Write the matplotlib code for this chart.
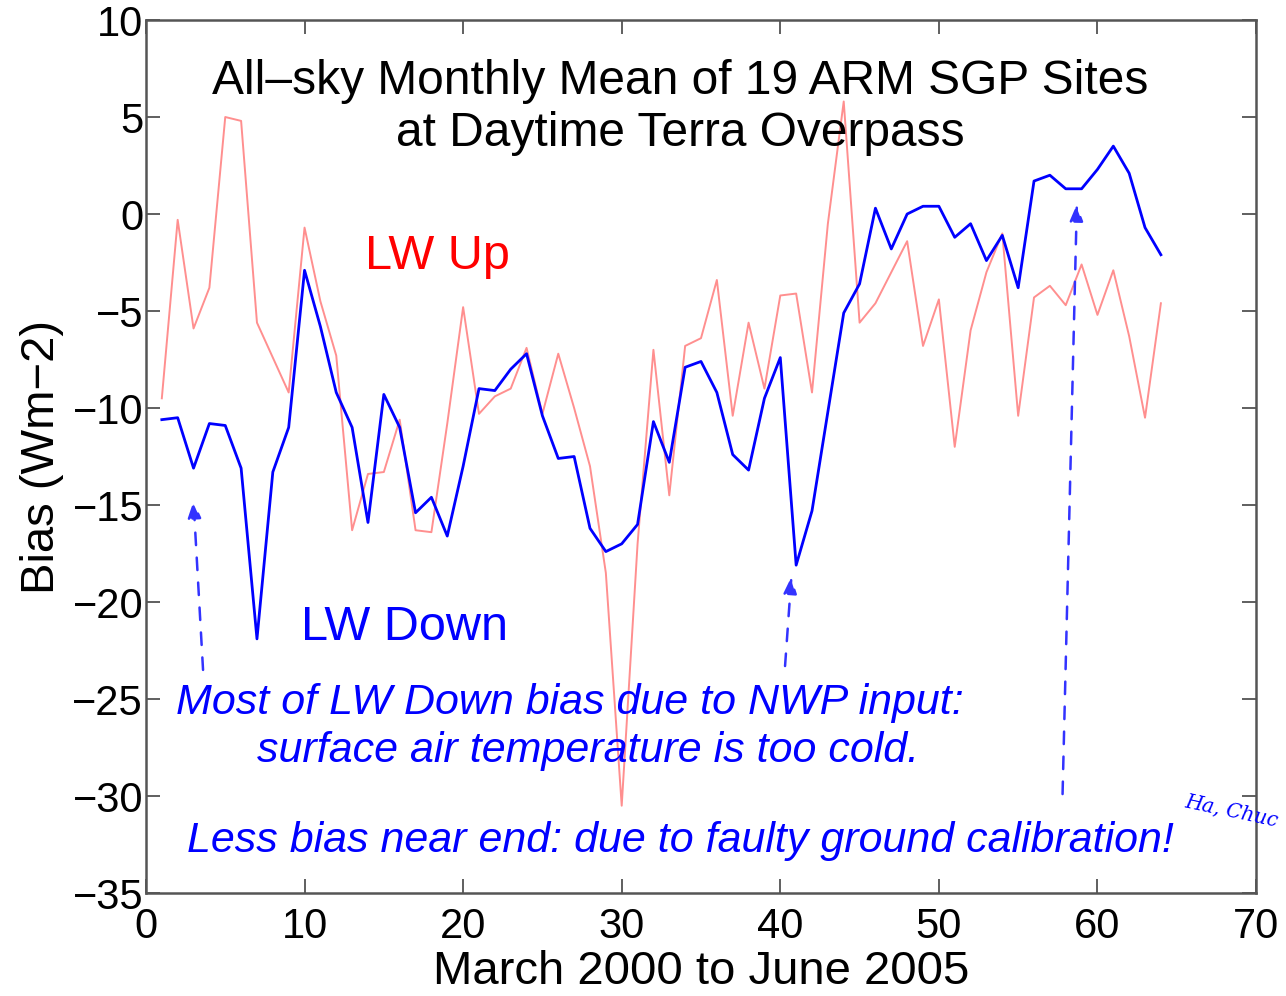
import numpy as np
import matplotlib
matplotlib.use("Agg")
import matplotlib.pyplot as plt

plt.rcParams['font.family'] = ['Liberation Sans', 'DejaVu Sans']

# month index, March 2000 .. June 2005
months = np.arange(1, 65)

lw_up = [-9.5, -0.3, -5.9, -3.8, 5.0, 4.8, -5.6, -7.4, -9.2, -0.7,
         -4.5, -7.3, -16.3, -13.4, -13.3, -10.6, -16.3, -16.4, -10.8, -4.8,
         -10.3, -9.4, -9.0, -6.9, -10.3, -7.2, -10.0, -13.0, -18.5, -30.5,
         -17.0, -7.0, -14.5, -6.8, -6.4, -3.4, -10.4, -5.6, -9.0, -4.2,
         -4.1, -9.2, -0.5, 5.8, -5.6, -4.6, -3.0, -1.4, -6.8, -4.4,
         -12.0, -6.0, -3.0, -1.0, -10.4, -4.3, -3.7, -4.7, -2.6, -5.2,
         -2.9, -6.3, -10.5, -4.6]

lw_down = [-10.6, -10.5, -13.1, -10.8, -10.9, -13.1, -21.9, -13.3, -11.0, -2.9,
           -5.8, -9.2, -11.0, -15.9, -9.3, -11.0, -15.4, -14.6, -16.6, -13.0,
           -9.0, -9.1, -8.0, -7.2, -10.4, -12.6, -12.5, -16.2, -17.4, -17.0,
           -16.0, -10.7, -12.8, -7.9, -7.6, -9.2, -12.4, -13.2, -9.5, -7.4,
           -18.1, -15.3, -10.2, -5.1, -3.6, 0.3, -1.8, 0.0, 0.4, 0.4,
           -1.2, -0.5, -2.4, -1.1, -3.8, 1.7, 2.0, 1.3, 1.3, 2.3,
           3.5, 2.1, -0.7, -2.1]

# arrows: (tail, head) in data units
arrows = [((3.6, -23.5), (3.0, -14.8)),
          ((40.3, -23.3), (40.7, -18.7)),
          ((57.8, -29.9), (58.7, 0.5))]

fig = plt.figure(figsize=(12.86, 9.96), dpi=100)
ax = fig.add_axes([0.1135, 0.1034, 0.8632, 0.8765])

ax.plot(months, lw_up, color='#ff8f8f', lw=1.4)
ax.plot(months, lw_down, color='#0000ff', lw=2.0)

for tail, head in arrows:
    ax.annotate('', xy=head, xytext=tail,
                arrowprops=dict(arrowstyle='-|>,head_length=1.0,head_width=0.4',
                                color='#3333ff', lw=1.8, ls=(0, (5, 5)),
                                shrinkA=0, shrinkB=0))

ax.set_xlim(0, 70)
ax.set_ylim(-35, 10)
ax.set_xticks(range(0, 71, 10))
ax.set_yticks(range(-35, 11, 5))
ax.tick_params(direction='in', length=10, width=1.2, top=True, right=True,
               labelsize=30, color='#444444')
ax.tick_params(axis='x', pad=10)
ax.tick_params(axis='y', pad=2)
for s in ax.spines.values():
    s.set_linewidth(1.8)
    s.set_color('#555555')

ax.set_xlabel('March 2000 to June 2005', fontsize=34, labelpad=2)
ax.set_ylabel('Bias (Wm\u22122)', fontsize=34, labelpad=6)

ax.text(33.7, 5.5, 'All\u2013sky Monthly Mean of 19 ARM SGP Sites\nat Daytime Terra Overpass',
        ha='center', va='center', fontsize=34.5, linespacing=1.2)
ax.text(18.35, -2.2, 'LW Up', color='#ff0000', fontsize=35, ha='center', va='center')
ax.text(16.3, -21.3, 'LW Down', color='#0000ff', fontsize=35, ha='center', va='center')
ax.text(26.7, -25.2, 'Most of LW Down bias due to NWP input:',
        color='#0000ff', fontsize=31, style='italic', ha='center', va='center')
ax.text(27.9, -27.7, 'surface air temperature is too cold.',
        color='#0000ff', fontsize=31, style='italic', ha='center', va='center')
ax.text(33.7, -32.3, 'Less bias near end: due to faulty ground calibration!',
        color='#0000ff', fontsize=31, style='italic', ha='center', va='center')

fig.text(0.92, 0.185, 'Ha, Chuc', color='#0000ff', fontsize=14.5, family='DejaVu Serif',
         style='italic', rotation=-12, ha='left', va='center')

fig.savefig('out.png', dpi=100)
